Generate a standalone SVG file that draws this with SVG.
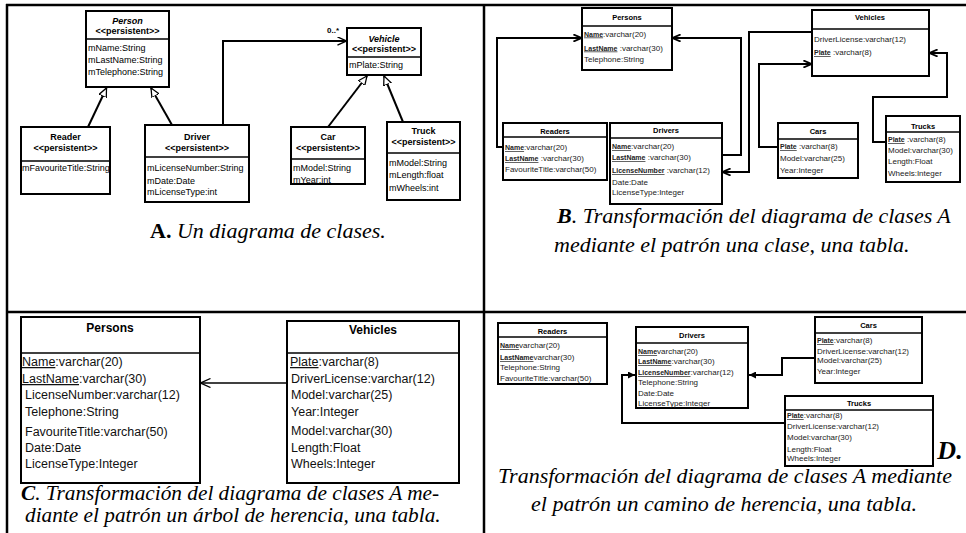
<svg xmlns="http://www.w3.org/2000/svg" width="966" height="533" viewBox="0 0 966 533">
<defs>
<style>
.frame line{stroke:#000;stroke-width:2.5}
.box{fill:#fff;stroke:#000;stroke-width:2}
.div{stroke:#000;stroke-width:1.5}
.ln{stroke:#000;stroke-width:2;fill:none}
.thin{stroke:#000;stroke-width:1.3;fill:none}
text{font-family:"Liberation Sans",Arial,sans-serif;fill:#000}
.uh{font-size:9px;font-weight:bold;text-anchor:middle}
.it{font-style:italic}
.ua{font-size:9px}
.th{font-size:7.5px;font-weight:bold;text-anchor:middle}
.ta{font-size:8px;fill:#222}
.pk{font-size:7px;font-weight:bold;text-decoration:underline}
.ch{font-size:12px;font-weight:bold;text-anchor:middle}
.ca{font-size:12.5px;fill:#111}
.cu{text-decoration:underline}
.cap{font-family:"Liberation Serif","Times New Roman",serif;font-size:22px;font-style:italic}
.capc{font-size:21.3px}
.lb{font-weight:bold}
</style>
<marker id="gen" viewBox="0 0 10 10" refX="10" refY="5" markerWidth="9" markerHeight="9" markerUnits="userSpaceOnUse" orient="auto">
<path d="M0,0.5 L10,5 L0,9.5 z" fill="#fff" stroke="#000" stroke-width="1.4"/>
</marker>
<marker id="open" viewBox="0 0 10 10" refX="9.5" refY="5" markerWidth="9" markerHeight="9" markerUnits="userSpaceOnUse" orient="auto">
<path d="M0,0.5 L10,5 L0,9.5" fill="none" stroke="#000" stroke-width="1.6"/>
</marker>
<marker id="openb" viewBox="0 0 10 10" refX="9.5" refY="5" markerWidth="8" markerHeight="8" markerUnits="userSpaceOnUse" orient="auto">
<path d="M0,0.5 L10,5 L0,9.5" fill="none" stroke="#000" stroke-width="2.2"/>
</marker>
<marker id="openc" viewBox="0 0 10 10" refX="9.5" refY="5" markerWidth="10" markerHeight="10" markerUnits="userSpaceOnUse" orient="auto">
<path d="M0,0.5 L10,5 L0,9.5" fill="none" stroke="#000" stroke-width="1.3"/>
</marker>
<marker id="fill" viewBox="0 0 10 10" refX="10" refY="5" markerWidth="7" markerHeight="7" markerUnits="userSpaceOnUse" orient="auto">
<path d="M0,0 L10,5 L0,10 z" fill="#000"/>
</marker>
</defs>
<rect width="966" height="533" fill="#fff"/>
<g class="frame" id="frame">
<line x1="6" y1="5" x2="966" y2="5"/>
<line x1="7" y1="4" x2="7" y2="533"/>
<line x1="484" y1="4" x2="484" y2="533"/>
<line x1="7" y1="312" x2="966" y2="312"/>
</g>

<!-- Panel A -->
<g id="a-person">
<rect class="box" x="86" y="11" width="83" height="76"/>
<line class="div" x1="86" y1="39" x2="169" y2="39"/>
<text class="uh it" x="127.5" y="23.5">Person</text>
<text class="uh" x="127.5" y="34">&lt;&lt;persistent&gt;&gt;</text>
<text class="ua" x="88" y="51">mName:String</text>
<text class="ua" x="88" y="63">mLastName:String</text>
<text class="ua" x="88" y="75">mTelephone:String</text>
</g>
<g id="a-reader">
<rect class="box" x="21" y="127" width="89" height="67"/>
<line class="div" x1="21" y1="161" x2="110" y2="161"/>
<text class="uh" x="65.5" y="139.5">Reader</text>
<text class="uh" x="65.5" y="150.5">&lt;&lt;persistent&gt;&gt;</text>
<text class="ua" x="22" y="171">mFavouriteTitle:String</text>
</g>
<g id="a-driver">
<rect class="box" x="145" y="125" width="104" height="77"/>
<line class="div" x1="145" y1="157" x2="249" y2="157"/>
<text class="uh" x="197" y="139.5">Driver</text>
<text class="uh" x="197" y="150.5">&lt;&lt;persistent&gt;&gt;</text>
<text class="ua" x="147" y="171">mLicenseNumber:String</text>
<text class="ua" x="147" y="184">mDate:Date</text>
<text class="ua" x="147" y="195">mLicenseType:int</text>
</g>
<g id="a-vehicle">
<rect class="box" x="347" y="28" width="74" height="47"/>
<line class="div" x1="347" y1="57" x2="421" y2="57"/>
<text class="uh it" x="384" y="41.5">Vehicle</text>
<text class="uh" x="384" y="52">&lt;&lt;persistent&gt;&gt;</text>
<text class="ua" x="349" y="68">mPlate:String</text>
</g>
<g id="a-car">
<rect class="box" x="291" y="127" width="74" height="57"/>
<line class="div" x1="291" y1="159" x2="365" y2="159"/>
<text class="uh" x="328" y="139.5">Car</text>
<text class="uh" x="328" y="150.5">&lt;&lt;persistent&gt;&gt;</text>
<text class="ua" x="293" y="171">mModel:String</text>
<text class="ua" x="293" y="183">mYear:int</text>
</g>
<g id="a-truck">
<rect class="box" x="387" y="122" width="73" height="78"/>
<line class="div" x1="387" y1="153" x2="460" y2="153"/>
<text class="uh" x="423.5" y="133.5">Truck</text>
<text class="uh" x="423.5" y="145">&lt;&lt;persistent&gt;&gt;</text>
<text class="ua" x="389" y="166">mModel:String</text>
<text class="ua" x="389" y="177.5">mLength:float</text>
<text class="ua" x="389" y="191">mWheels:int</text>
</g>
<g id="a-connectors">
<line class="ln" x1="88" y1="127" x2="106.5" y2="88" marker-end="url(#gen)"/>
<line class="ln" x1="172" y1="125" x2="151" y2="88" marker-end="url(#gen)"/>
<line class="ln" x1="328" y1="127" x2="367" y2="76" marker-end="url(#gen)"/>
<line class="ln" x1="403" y1="122" x2="384" y2="76" marker-end="url(#gen)"/>
<path class="ln" d="M223,125 V41 H346" marker-end="url(#open)"/>
<text x="327" y="33" style="font-size:8px;font-weight:bold">0..*</text>
</g>
<text class="cap" x="150" y="238"><tspan class="lb" font-style="normal">A.</tspan> Un diagrama de clases.</text>

<!-- Panel B -->
<g id="b-persons">
<rect class="box" x="582" y="8" width="90" height="62"/>
<line class="div" x1="582" y1="26" x2="672" y2="26"/>
<text class="th" x="627" y="20">Persons</text>
<text class="ta" x="584" y="36.5"><tspan class="pk">Name</tspan>:varchar(20)</text>
<text class="ta" x="584" y="50.5"><tspan class="pk">LastName</tspan> :varchar(30)</text>
<text class="ta" x="584" y="62">Telephone:String</text>
</g>
<g id="b-readers">
<rect class="box" x="503" y="123" width="104" height="57"/>
<line class="div" x1="503" y1="137" x2="607" y2="137"/>
<text class="th" x="555" y="133.5">Readers</text>
<text class="ta" x="505" y="150"><tspan class="pk">Name</tspan>:varchar(20)</text>
<text class="ta" x="505" y="161"><tspan class="pk">LastName</tspan> :varchar(30)</text>
<text class="ta" x="505" y="172">FavouriteTitle:varchar(50)</text>
</g>
<g id="b-drivers">
<rect class="box" x="610" y="123" width="112" height="81"/>
<line class="div" x1="610" y1="138" x2="722" y2="138"/>
<text class="th" x="666" y="133">Drivers</text>
<text class="ta" x="612" y="149"><tspan class="pk">Name</tspan>:varchar(20)</text>
<text class="ta" x="612" y="160"><tspan class="pk">LastName</tspan> :varchar(30)</text>
<text class="ta" x="612" y="173"><tspan class="pk">LicenseNumber</tspan> :varchar(12)</text>
<text class="ta" x="612" y="185">Date:Date</text>
<text class="ta" x="612" y="195">LicenseType:Integer</text>
</g>
<g id="b-vehicles">
<rect class="box" x="812" y="10" width="117" height="66"/>
<line class="div" x1="812" y1="29" x2="929" y2="29"/>
<text class="th" x="870" y="20">Vehicles</text>
<text class="ta" x="814" y="42">DriverLicense:varchar(12)</text>
<text class="ta" x="814" y="55"><tspan class="pk">Plate</tspan> :varchar(8)</text>
</g>
<g id="b-cars">
<rect class="box" x="778" y="123" width="80" height="55"/>
<line class="div" x1="778" y1="139" x2="858" y2="139"/>
<text class="th" x="818" y="134">Cars</text>
<text class="ta" x="780" y="149"><tspan class="pk">Plate</tspan> :varchar(8)</text>
<text class="ta" x="780" y="161">Model:varchar(25)</text>
<text class="ta" x="780" y="173">Year:Integer</text>
</g>
<g id="b-trucks">
<rect class="box" x="886" y="116" width="74" height="66"/>
<line class="div" x1="886" y1="132" x2="960" y2="132"/>
<text class="th" x="923" y="128.5">Trucks</text>
<text class="ta" x="888" y="142"><tspan class="pk">Plate</tspan> :varchar(8)</text>
<text class="ta" x="888" y="153">Model:varchar(30)</text>
<text class="ta" x="888" y="164">Length:Float</text>
<text class="ta" x="888" y="176">Wheels:Integer</text>
</g>
<g id="b-connectors">
<path class="ln" d="M503,147 H497 V38 H581" marker-end="url(#openb)"/>
<path class="ln" d="M722,155 H741 V38 H673" marker-end="url(#openb)"/>
<path class="ln" d="M812,32 H749 V172 H723" marker-end="url(#openb)"/>
<path class="ln" d="M778,147 H759 V64 H811" marker-end="url(#openb)"/>
<path class="ln" d="M886,142 H873 V97 H947 V53 H930" marker-end="url(#openb)"/>
</g>
<text class="cap" x="557" y="223"><tspan class="lb">B</tspan>. Transformación del diagrama de clases A</text>
<text class="cap" x="554" y="252">mediante el patrón una clase, una tabla.</text>

<!-- Panel C -->
<g id="c-persons">
<rect class="box" x="21" y="317" width="179" height="166"/>
<line class="div" x1="21" y1="353" x2="200" y2="353"/>
<text class="ch" x="110" y="332">Persons</text>
<text class="ca" x="22" y="366"><tspan class="cu">Name</tspan>:varchar(20)</text>
<text class="ca" x="22" y="383"><tspan class="cu">LastName</tspan>:varchar(30)</text>
<text class="ca" x="25" y="399">LicenseNumber:varchar(12)</text>
<text class="ca" x="25" y="416">Telephone:String</text>
<text class="ca" x="25" y="436">FavouriteTitle:varchar(50)</text>
<text class="ca" x="25" y="452">Date:Date</text>
<text class="ca" x="25" y="468">LicenseType:Integer</text>
</g>
<g id="c-vehicles">
<rect class="box" x="287" y="321" width="172" height="162"/>
<line class="div" x1="287" y1="353" x2="459" y2="353"/>
<text class="ch" x="373" y="334">Vehicles</text>
<text class="ca" x="290" y="366"><tspan class="cu">Plate</tspan>:varchar(8)</text>
<text class="ca" x="291" y="383">DriverLicense:varchar(12)</text>
<text class="ca" x="291" y="399">Model:varchar(25)</text>
<text class="ca" x="291" y="416">Year:Integer</text>
<text class="ca" x="291" y="435">Model:varchar(30)</text>
<text class="ca" x="291" y="452">Length:Float</text>
<text class="ca" x="291" y="468">Wheels:Integer</text>
</g>
<g id="c-connectors">
<line class="thin" x1="287" y1="383" x2="201" y2="383" marker-end="url(#openc)"/>
</g>
<text class="cap capc" x="21" y="500"><tspan class="lb">C</tspan>. Transformación del diagrama de clases A me-</text>
<text class="cap capc" x="25" y="522">diante el patrón un árbol de herencia, una tabla.</text>

<!-- Panel D -->
<g id="d-readers">
<rect class="box" x="498" y="323" width="109" height="61"/>
<line class="div" x1="498" y1="337" x2="607" y2="337"/>
<text class="th" x="552.5" y="334">Readers</text>
<text class="ta" x="500" y="348"><tspan class="pk">Name</tspan>varchar(20)</text>
<text class="ta" x="500" y="360"><tspan class="pk">LastName</tspan>varchar(30)</text>
<text class="ta" x="500" y="370">Telephone:String</text>
<text class="ta" x="500" y="381">FavouriteTitle:varchar(50)</text>
</g>
<g id="d-drivers">
<rect class="box" x="636" y="327" width="112" height="81"/>
<line class="div" x1="636" y1="343" x2="748" y2="343"/>
<text class="th" x="692" y="338">Drivers</text>
<text class="ta" x="638" y="354"><tspan class="pk">Name</tspan>varchar(20)</text>
<text class="ta" x="638" y="364"><tspan class="pk">LastName</tspan>:varchar(30)</text>
<text class="ta" x="638" y="375"><tspan class="pk">LicenseNumber</tspan>:varchar(12)</text>
<text class="ta" x="638" y="385">Telephone:String</text>
<text class="ta" x="638" y="396">Date:Date</text>
<text class="ta" x="638" y="406">LicenseType:Integer</text>
</g>
<g id="d-cars">
<rect class="box" x="815" y="317" width="107" height="66"/>
<line class="div" x1="815" y1="333" x2="922" y2="333"/>
<text class="th" x="868.5" y="328">Cars</text>
<text class="ta" x="817" y="343"><tspan class="pk">Plate</tspan>:varchar(8)</text>
<text class="ta" x="817" y="354">DriverLicense:varchar(12)</text>
<text class="ta" x="817" y="363">Model:varchar(25)</text>
<text class="ta" x="817" y="374">Year:Integer</text>
</g>
<g id="d-trucks">
<rect class="box" x="785" y="396" width="148" height="70"/>
<line class="div" x1="785" y1="410" x2="933" y2="410"/>
<text class="th" x="859" y="406">Trucks</text>
<text class="ta" x="787" y="418"><tspan class="pk">Plate</tspan>:varchar(8)</text>
<text class="ta" x="787" y="429">DriverLicense:varchar(12)</text>
<text class="ta" x="787" y="440">Model:varchar(30)</text>
<text class="ta" x="787" y="452">Length:Float</text>
<text class="ta" x="787" y="461">Wheels:Integer</text>
</g>
<g id="d-connectors">
<path class="ln" d="M815,358 H782 V375 H749" marker-end="url(#fill)"/>
<path class="ln" d="M785,423 H622 V375 H635" marker-end="url(#fill)"/>
</g>
<text class="cap" x="950" y="459" style="font-size:26px;font-weight:bold" text-anchor="middle">D.</text>
<text class="cap" x="725" y="483" text-anchor="middle">Transformación del diagrama de clases A mediante</text>
<text class="cap" x="724" y="511" text-anchor="middle">el patrón un camino de herencia, una tabla.</text>
</svg>
